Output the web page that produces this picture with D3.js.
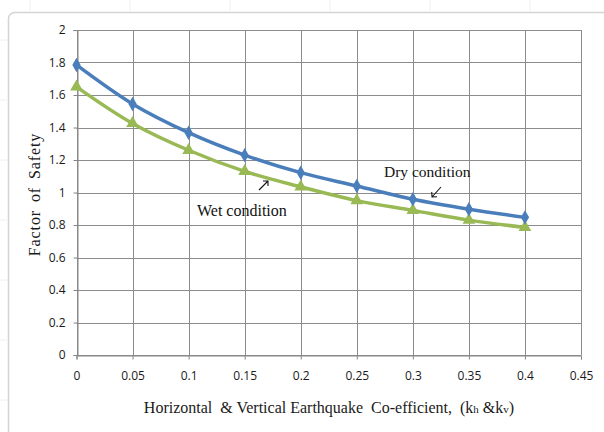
<!DOCTYPE html>
<html>
<head>
<meta charset="utf-8">
<script src="https://cdn.jsdelivr.net/npm/d3@7"></script>
<style>
  html, body { margin: 0; padding: 0; background: #fff; }
  svg { display: block; }
</style>
</head>
<body>
<svg id="chart" width="604" height="432"></svg>
<script>
// Seismic coefficient (kh & kv) on the x axis
const coefficients = [0, 0.05, 0.1, 0.15, 0.2, 0.25, 0.3, 0.35, 0.4];
// Factor of safety for each condition
const dryCondition = [1.785, 1.545, 1.368, 1.23, 1.122, 1.04, 0.958, 0.897, 0.847];
const wetCondition = [1.65, 1.425, 1.26, 1.13, 1.035, 0.95, 0.89, 0.83, 0.785];
// Axis tick values
const xTicks = [0, 0.05, 0.1, 0.15, 0.2, 0.25, 0.3, 0.35, 0.4, 0.45];
const yTicks = [0, 0.2, 0.4, 0.6, 0.8, 1, 1.2, 1.4, 1.6, 1.8, 2];

const svg = d3.select("#chart");

// sheet background with faint cell lines and the chart frame
const sheet = svg.append("g");
[30, 130, 230, 330, 430, 530].forEach(x => {
  sheet.append("line").attr("x1", x).attr("x2", x).attr("y1", 0).attr("y2", 11)
    .attr("stroke", "#f0f0f0").attr("stroke-width", 1);
});
[40, 100, 160, 220, 280, 340, 400].forEach(y => {
  sheet.append("line").attr("x1", 0).attr("x2", 7).attr("y1", y).attr("y2", y)
    .attr("stroke", "#f0f0f0").attr("stroke-width", 1);
});
sheet.append("rect")
  .attr("x", 8.5).attr("y", 12.5).attr("width", 620).attr("height", 450)
  .attr("rx", 6).attr("ry", 6)
  .attr("fill", "#fff").attr("stroke", "#d4d4d4").attr("stroke-width", 1.5);

const x = d3.scaleLinear().domain([0, 0.45]).range([76.5, 581]);
const y = d3.scaleLinear().domain([0, 2]).range([355, 30]);

// gridlines
const grid = svg.append("g");
grid.selectAll(".gx").data(xTicks).join("line")
  .attr("x1", d => Math.round(x(d)) + 0.5).attr("x2", d => Math.round(x(d)) + 0.5)
  .attr("y1", y(2)).attr("y2", y(0))
  .attr("stroke", "#8c8c8c").attr("stroke-width", 1);
grid.selectAll(".gy").data(yTicks).join("line")
  .attr("x1", x(0)).attr("x2", x(0.45))
  .attr("y1", d => Math.round(y(d)) + 0.5).attr("y2", d => Math.round(y(d)) + 0.5)
  .attr("stroke", "#8c8c8c").attr("stroke-width", 1);

// axes
const tickFont = "'Open Sans', 'Liberation Sans', sans-serif";
const xAxis = svg.append("g")
  .attr("transform", `translate(0,${Math.round(y(0)) + 0.5})`)
  .call(d3.axisBottom(x).tickValues(xTicks).tickSize(4).tickPadding(12)
    .tickFormat(d3.format("~g")));
const yAxis = svg.append("g")
  .attr("transform", `translate(${Math.round(x(0)) + 0.5},0)`)
  .call(d3.axisLeft(y).tickValues(yTicks).tickSize(4).tickPadding(8)
    .tickFormat(d3.format("~g")));
[xAxis, yAxis].forEach(a => {
  a.select(".domain").attr("stroke", "#868686");
  a.selectAll(".tick line").attr("stroke", "#868686");
  a.selectAll(".tick text").attr("fill", "#1a1a1a")
    .style("font-family", tickFont).style("font-size", "12px");
});

// series
const line = d3.line()
  .x((d, i) => x(coefficients[i]))
  .y(d => y(d))
  .curve(d3.curveCatmullRom.alpha(0.5));

const blue = "#4a7ebb", green = "#98b954";

svg.append("path").datum(wetCondition)
  .attr("d", line).attr("fill", "none")
  .attr("stroke", green).attr("stroke-width", 3.5);
svg.append("path").datum(dryCondition)
  .attr("d", line).attr("fill", "none")
  .attr("stroke", blue).attr("stroke-width", 3.5);

svg.append("g").selectAll("path").data(wetCondition).join("path")
  .attr("d", d3.symbol(d3.symbolTriangle, 70))
  .attr("transform", (d, i) => `translate(${x(coefficients[i])},${y(d)})`)
  .attr("fill", green);
svg.append("g").selectAll("path").data(dryCondition).join("path")
  .attr("d", d3.symbol(d3.symbolDiamond, 60))
  .attr("transform", (d, i) => `translate(${x(coefficients[i])},${y(d)})`)
  .attr("fill", blue);

// axis titles
const serif = "'Liberation Serif', 'DejaVu Serif', serif";
svg.append("text")
  .attr("transform", `translate(40,${y(1) + 2}) rotate(-90)`)
  .attr("text-anchor", "middle")
  .style("font-family", serif).style("font-size", "16px")
  .style("letter-spacing", "0.9px").style("word-spacing", "3px")
  .attr("fill", "#1a1a1a")
  .text("Factor of Safety");

const xt = svg.append("text")
  .attr("x", 329).attr("y", 413)
  .attr("text-anchor", "middle")
  .style("font-family", serif).style("font-size", "16px").attr("fill", "#1a1a1a")
  .attr("xml:space", "preserve");
xt.append("tspan").text("Horizontal  & Vertical Earthquake  Co-efficient,  (k");
xt.append("tspan").style("font-size", "11px").text("h");
xt.append("tspan").text(" &k");
xt.append("tspan").style("font-size", "11px").text("v");
xt.append("tspan").text(")");

// condition labels
const note = (tx, ty, t) => svg.append("text")
  .attr("x", tx).attr("y", ty)
  .style("font-family", serif).style("font-size", "16px").attr("fill", "#111")
  .text(t);
note(197, 216, "Wet condition");
note(384, 177, "Dry condition").style("font-size", "15.5px");

// small pointer arrows
const arrow = (x1, y1, x2, y2) => {
  const ang = Math.atan2(y2 - y1, x2 - x1);
  const h = 5;
  const a1 = ang + Math.PI * 0.75, a2 = ang - Math.PI * 0.75;
  const p = d3.path();
  p.moveTo(x1, y1); p.lineTo(x2, y2);
  p.moveTo(x2 + h * Math.cos(a1), y2 + h * Math.sin(a1));
  p.lineTo(x2, y2);
  p.lineTo(x2 + h * Math.cos(a2), y2 + h * Math.sin(a2));
  svg.append("path").attr("d", p.toString())
    .attr("fill", "none").attr("stroke", "#111").attr("stroke-width", 1.1);
};
arrow(259, 190, 268, 181);
arrow(441, 187, 432, 197);
</script>
</body>
</html>
